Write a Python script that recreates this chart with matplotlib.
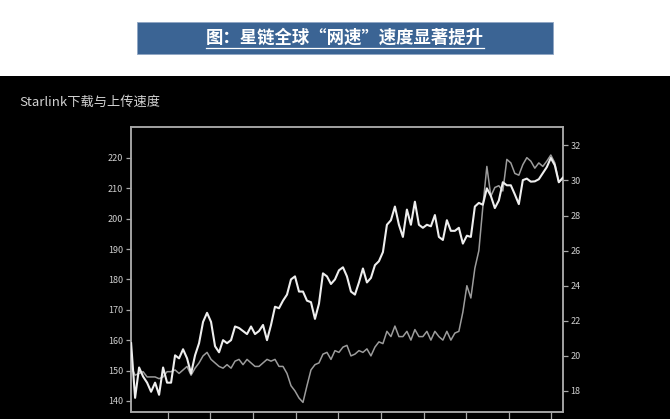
import matplotlib
matplotlib.use("Agg")
import matplotlib.pyplot as plt
from matplotlib.patches import Rectangle
from matplotlib.lines import Line2D
import numpy as np

plt.rcParams['font.family'] = ['Noto Sans CJK SC', 'DejaVu Sans']

# weekly speeds (Mbps)
download = [159, 141, 151, 148, 146, 143, 146, 142, 151, 146,
            146, 155, 154, 157, 154, 149, 155, 159, 166, 169,
            166, 158, 156, 160, 159, 160, 164.5, 164, 163, 162,
            164.5, 162, 163, 165, 160, 165, 171, 170.5, 173, 175,
            180, 181, 176, 176, 173, 172.5, 167, 172, 182, 181,
            178.5, 180, 183, 184, 181, 176, 175, 179, 183.6, 179,
            180.5, 184.7, 186, 189, 198, 199.5, 204, 198, 194, 203,
            198, 205.6, 198, 197, 198, 197.5, 201.2, 194, 193, 199.5,
            196, 196, 197, 191.8, 194.4, 194, 204, 205.2, 204.6, 210,
            207.5, 203.5, 206, 212, 211, 211, 208, 204.8, 212.7, 213.2,
            212.2, 212.3, 213, 215, 217, 220, 217.6, 212, 213.5]
upload = [19.4, 18.9, 19.0, 19.1, 18.8, 18.8, 18.8, 18.7, 18.8, 19.1,
          19.1, 19.2, 19.0, 19.2, 19.4, 18.9, 19.3, 19.6, 20.0, 20.2,
          19.8, 19.6, 19.4, 19.3, 19.5, 19.3, 19.7, 19.8, 19.5, 19.8,
          19.6, 19.4, 19.4, 19.6, 19.8, 19.7, 19.8, 19.4, 19.4, 19.0,
          18.3, 18.0, 17.6, 17.35, 18.3, 19.2, 19.5, 19.6, 20.1, 20.2,
          19.8, 20.3, 20.2, 20.5, 20.6, 20.0, 20.1, 20.3, 20.2, 20.4,
          20.0, 20.5, 20.8, 20.7, 21.4, 21.1, 21.7, 21.1, 21.1, 21.4,
          20.9, 21.5, 21.1, 21.1, 21.4, 20.9, 21.4, 21.1, 20.9, 21.4,
          20.9, 21.3, 21.4, 22.5, 24.0, 23.3, 25.0, 26.0, 28.5, 30.8,
          29.1, 29.6, 29.7, 29.4, 31.2, 31.0, 30.4, 30.3, 30.9, 31.3,
          31.1, 30.7, 31.0, 30.8, 31.1, 31.45, 31.0, 29.9, 30.1]
weeks = np.arange(len(download))

left_ticks = [140, 150, 160, 170, 180, 190, 200, 210, 220]
right_ticks = [18, 20, 22, 24, 26, 28, 30, 32]

fig = plt.figure(figsize=(6.7, 4.19), dpi=100)
fig.patch.set_facecolor('white')

# black panel and blue banner
fig.patches.append(Rectangle((0, 0), 1, 1 - 76 / 419, transform=fig.transFigure,
                             facecolor='black', edgecolor='none', zorder=-5))
fig.patches.append(Rectangle((137 / 670, 1 - 54 / 419), 416 / 670, 32 / 419,
                             transform=fig.transFigure, facecolor='#3b6494',
                             edgecolor='#8fa6c4', linewidth=0.6, zorder=-5))
banner = fig.text(0.515, 1 - 38 / 419, '图：星链全球“网速”速度显著提升', color='white',
                  fontsize=12.5, fontweight='bold', ha='center', va='center')

fig.text(19 / 670, 1 - 102 / 419, 'Starlink下载与上传速度', color='#d2d2d2',
         fontsize=9.5, ha='left', va='center')

ax = fig.add_axes([130.7 / 670, 1 - 411.5 / 419, 432.3 / 670, 284.2 / 419])
ax2 = ax.twinx()

ax.plot(weeks, download, color='#eeeeee', lw=1.5, zorder=3)
ax2.plot(weeks, upload, color='#9c9c9c', lw=1.1, zorder=2)

ax.set_xlim(-0.1, 108.05)
ax.set_ylim(136.5, 230.1)
ax2.set_ylim(16.83, 33.03)

ax.set_xticks(np.arange(9.2, 108, 10.66))
ax.set_xticklabels([])
ax.set_yticks(left_ticks)
ax2.set_yticks(right_ticks)

ax.set_zorder(ax2.get_zorder() + 1)
ax.patch.set_visible(False)
ax2.patch.set_visible(False)
for a in (ax, ax2):
    for s in a.spines.values():
        s.set_color('#a8a8a8')
        s.set_linewidth(1.1)
    a.tick_params(colors='#a8a8a8', labelcolor='#cfcfcf', labelsize=6.5,
                  length=3.5, width=0.9, pad=2)
ax.tick_params(axis='x', length=5)

fig.savefig('out.png', dpi=100, facecolor=fig.get_facecolor())

# underline the banner text
r = fig.canvas.get_renderer()
bb = banner.get_window_extent(r)
W, H = fig.get_size_inches() * fig.dpi
y_ul = (bb.y0 - 1.5) / H
fig.lines.append(Line2D([bb.x0 / W, bb.x1 / W], [y_ul, y_ul], transform=fig.transFigure,
                        color='white', lw=0.9))
fig.savefig('out.png', dpi=100, facecolor=fig.get_facecolor())
